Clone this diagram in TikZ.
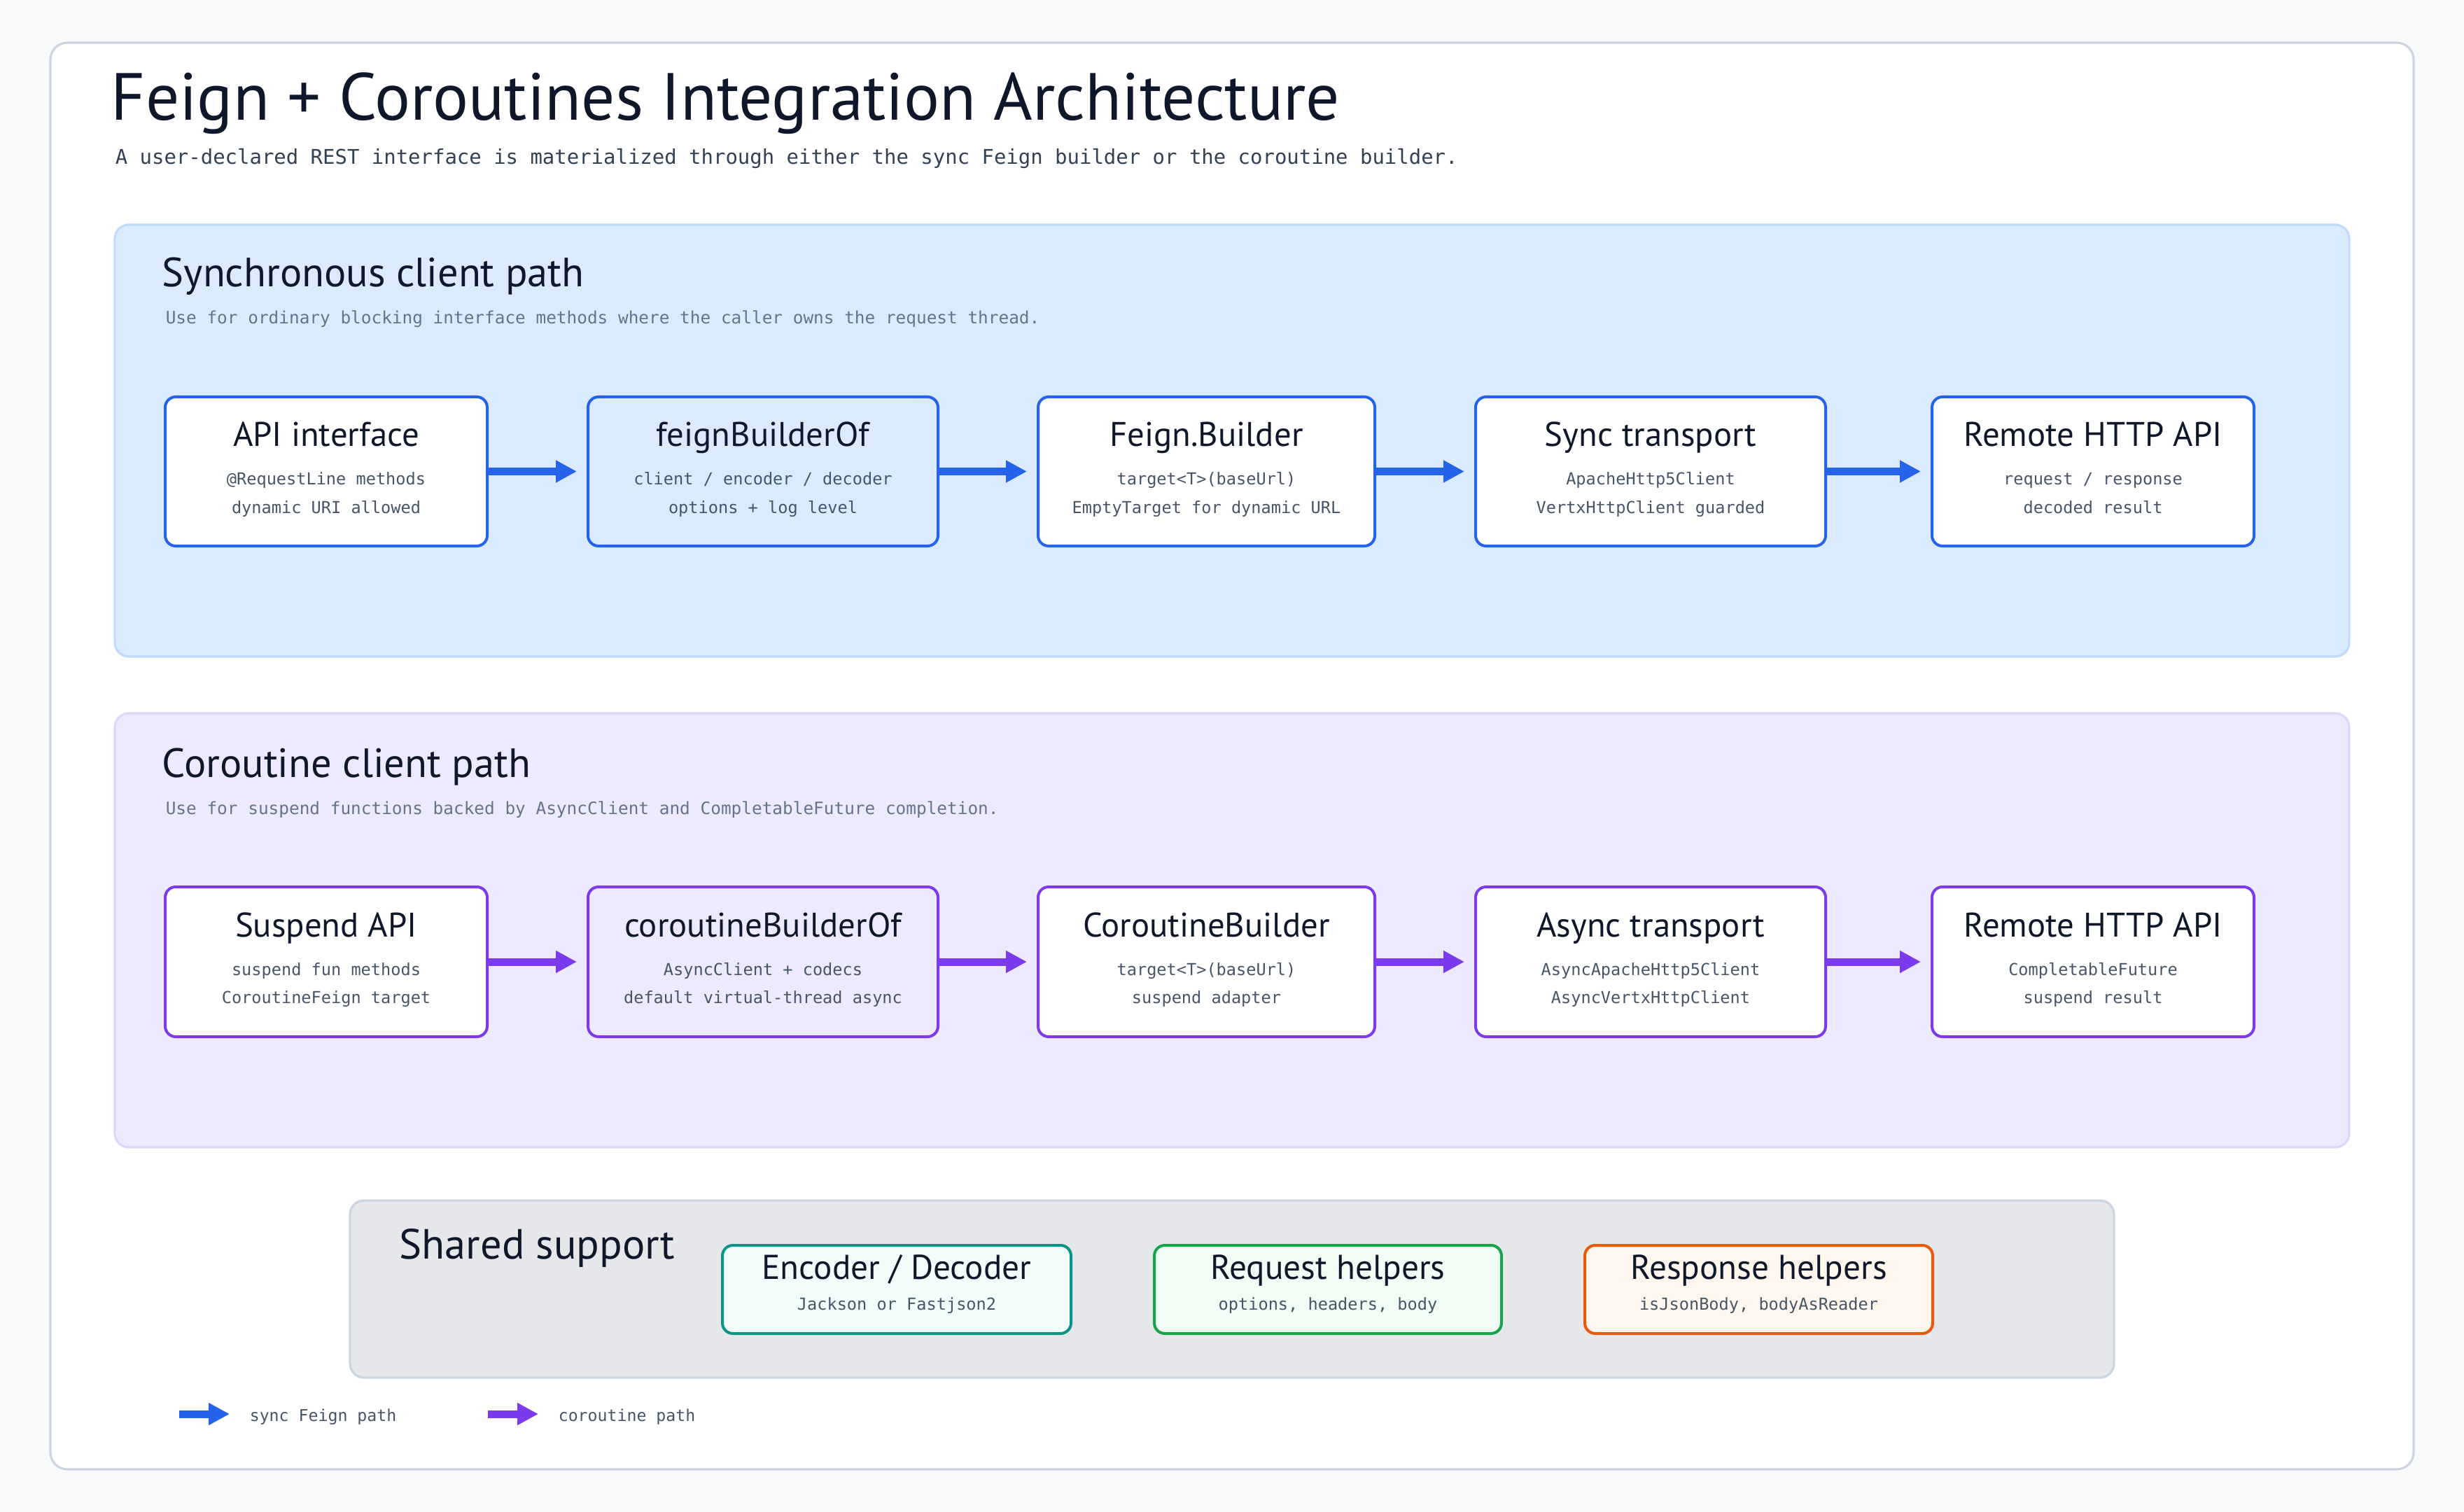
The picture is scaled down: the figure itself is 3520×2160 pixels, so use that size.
\documentclass[tikz,border=0pt]{standalone}
\usepackage{fontspec}
\setmainfont{PT Sans}
\newfontfamily\handfont{PT Sans}
\newfontfamily\monofont{DejaVu Sans Mono}
\usetikzlibrary{arrows.meta,fit,calc}
\definecolor{bgc}{HTML}{F8FAFC}
\definecolor{cardb}{HTML}{CBD5E1}
\definecolor{syncfill}{HTML}{DBEAFE}
\definecolor{syncbord}{HTML}{BFDBFE}
\definecolor{syncb}{HTML}{2563EB}
\definecolor{corfill}{HTML}{EDE9FE}
\definecolor{corbord}{HTML}{DDD6FE}
\definecolor{corb}{HTML}{7C3AED}
\definecolor{shfill}{HTML}{E5E7EB}
\definecolor{shbord}{HTML}{CBD5E1}
\definecolor{tealb}{HTML}{0D9488}
\definecolor{tealf}{HTML}{F0FDFA}
\definecolor{greenb}{HTML}{16A34A}
\definecolor{greenf}{HTML}{F0FDF4}
\definecolor{orangeb}{HTML}{EA580C}
\definecolor{orangef}{HTML}{FFF7ED}
\definecolor{ink}{HTML}{0F172A}
\definecolor{slatea}{HTML}{334155}
\definecolor{slateb}{HTML}{475569}
\definecolor{slatec}{HTML}{64748B}
\newcommand\flowbox[7]{%
  \node[#2, fit={(#3)(#4)}] (#1) {};
  \node[bt] (#1t) at ($(#1.north)+(0,73)$) {#5};
  \node[bl] (#1a) at ($(#1.north)+(0,128)$) {#6};
  \node[bl] (#1b) at ($(#1.north)+(0,168)$) {#7};}
\newcommand\helperbox[6]{%
  \node[#2, fit={(#3)(#4)}] (#1) {};
  \node[bt, font=\handfont\fontsize{12.3}{14}\selectfont] (#1t) at ($(#1.north)+(0,50)$) {#5};
  \node[bl] (#1a) at ($(#1.north)+(0,94)$) {#6};}
\begin{document}
\begin{tikzpicture}[x=0.25pt,y=-0.25pt,
  titletext/.style={anchor=base west, inner sep=0, text=ink, font=\handfont\fontsize{23.8}{28}\selectfont},
  subtext/.style={anchor=base west, inner sep=0, text=slatea, font=\monofont\fontsize{7.24}{9}\selectfont},
  panelhead/.style={anchor=base west, inner sep=0, text=ink, font=\handfont\fontsize{14.6}{17}\selectfont},
  captext/.style={anchor=base west, inner sep=0, text=slatec, font=\monofont\fontsize{6.1}{7}\selectfont},
  bt/.style={anchor=base, inner sep=0, text=ink, font=\handfont\fontsize{12.2}{14}\selectfont},
  bl/.style={anchor=base, inner sep=0, text=slateb, font=\monofont\fontsize{5.9}{7}\selectfont},
  legtext/.style={anchor=base west, inner sep=0, text=slateb, font=\monofont\fontsize{5.8}{7}\selectfont},
  basebox/.style={line width=1pt, rounded corners=3.75pt, inner sep=0},
  syncbox/.style={basebox, draw=syncb, fill=white},
  syncboxb/.style={basebox, draw=syncb, fill=syncfill},
  corbox/.style={basebox, draw=corb, fill=white},
  corboxb/.style={basebox, draw=corb, fill=corfill},
  encbox/.style={basebox, draw=tealb, fill=tealf},
  reqbox/.style={basebox, draw=greenb, fill=greenf},
  resbox/.style={basebox, draw=orangeb, fill=orangef},
  panel/.style={line width=0.8pt, rounded corners=5pt},
  sarrow/.style={draw=syncb, line width=2.75pt, -{Triangle[length=7.5pt,width=7.5pt]}, shorten >=3.5pt},
  carrow/.style={draw=corb, line width=2.75pt, -{Triangle[length=7.5pt,width=7.5pt]}, shorten >=3.5pt}
]
\useasboundingbox[fill=bgc] (0,0) rectangle (3520,2160);
\draw[fill=white, draw=cardb, line width=0.8pt, rounded corners=6pt] (72,61) rectangle (3448,2099);

\node[titletext] (title) at (158,172) {Feign + Coroutines Integration Architecture};
\node[subtext] (subtitle) at (164,235) {A user-declared REST interface is materialized through either the sync Feign builder or the coroutine builder.};

% sync panel
\draw[panel, fill=syncfill, draw=syncbord] (164,321) rectangle (3356,938);
\node[panelhead] (synchead) at (231,410) {Synchronous client path};
\node[captext] (synccap) at (236,463) {Use for ordinary blocking interface methods where the caller owns the request thread.};

\flowbox{s1}{syncbox}{236,567}{696,780}{API interface}{@RequestLine methods}{dynamic URI allowed}
\flowbox{s2}{syncboxb}{840,567}{1340,780}{feignBuilderOf}{client / encoder / decoder}{options + log level}
\flowbox{s3}{syncbox}{1483,567}{1964,780}{Feign.Builder}{target<T>(baseUrl)}{EmptyTarget for dynamic URL}
\flowbox{s4}{syncbox}{2108,567}{2608,780}{Sync transport}{ApacheHttp5Client}{VertxHttpClient guarded}
\flowbox{s5}{syncbox}{2760,567}{3220,780}{Remote HTTP API}{request / response}{decoded result}

\draw[sarrow] (s1.east) -- (s2.west);
\draw[sarrow] (s2.east) -- (s3.west);
\draw[sarrow] (s3.east) -- (s4.west);
\draw[sarrow] (s4.east) -- (s5.west);

% coroutine panel
\draw[panel, fill=corfill, draw=corbord] (164,1019) rectangle (3356,1639);
\node[panelhead] (corhead) at (231,1110) {Coroutine client path};
\node[captext] (corcap) at (236,1163) {Use for suspend functions backed by AsyncClient and CompletableFuture completion.};

\flowbox{c1}{corbox}{236,1267}{696,1481}{Suspend API}{suspend fun methods}{CoroutineFeign target}
\flowbox{c2}{corboxb}{840,1267}{1340,1481}{coroutineBuilderOf}{AsyncClient + codecs}{default virtual-thread async}
\flowbox{c3}{corbox}{1483,1267}{1964,1481}{CoroutineBuilder}{target<T>(baseUrl)}{suspend adapter}
\flowbox{c4}{corbox}{2108,1267}{2608,1481}{Async transport}{AsyncApacheHttp5Client}{AsyncVertxHttpClient}
\flowbox{c5}{corbox}{2760,1267}{3220,1481}{Remote HTTP API}{CompletableFuture}{suspend result}

\draw[carrow] (c1.east) -- (c2.west);
\draw[carrow] (c2.east) -- (c3.west);
\draw[carrow] (c3.east) -- (c4.west);
\draw[carrow] (c4.east) -- (c5.west);

% shared support
\draw[panel, fill=shfill, draw=shbord] (500,1715) rectangle (3020,1968);
\node[panelhead, font=\handfont\fontsize{15.1}{18}\selectfont] (shhead) at (570,1798) {Shared support};
\helperbox{h1}{encbox}{1032,1779}{1530,1905}{Encoder / Decoder}{Jackson or Fastjson2}
\helperbox{h2}{reqbox}{1649,1779}{2145,1905}{Request helpers}{options, headers, body}
\helperbox{h3}{resbox}{2264,1779}{2761,1905}{Response helpers}{isJsonBody, bodyAsReader}

% legend
\coordinate (lga) at (256,2020);
\coordinate (lgb) at (328,2020);
\coordinate (lgc) at (697,2020);
\coordinate (lgd) at (769,2020);
\draw[sarrow, shorten >=0pt] (lga) -- (lgb);
\node[legtext] (lgt1) at (356,2030) {sync Feign path};
\draw[carrow, shorten >=0pt] (lgc) -- (lgd);
\node[legtext] (lgt2) at (797,2030) {coroutine path};
\end{tikzpicture}
\end{document}
